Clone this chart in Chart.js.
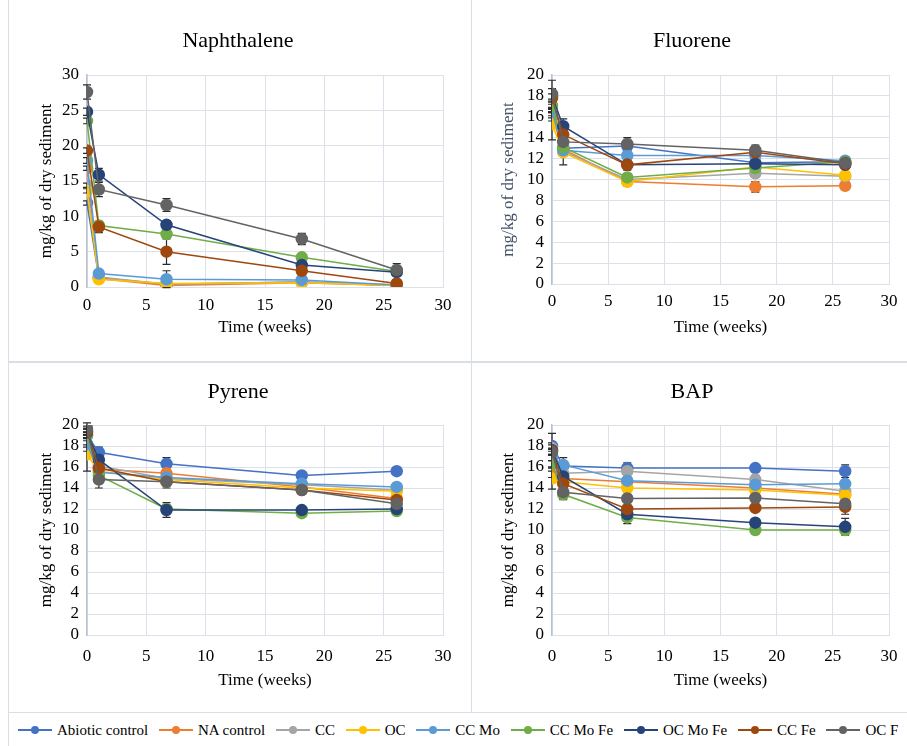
<!DOCTYPE html>
<html>
<head>
<meta charset="utf-8">
<script src="https://cdn.jsdelivr.net/npm/chart.js@4/dist/chart.umd.min.js"></script>
<style>
body{margin:0;width:907px;height:746px;overflow:hidden;background:#fff;position:relative;font-family:"Liberation Serif","Times New Roman",serif}
canvas{position:absolute}
.ln{position:absolute;background:#D9DDE5}
#legend{position:absolute;left:9px;top:714px;height:32px;display:flex;align-items:center;white-space:nowrap;font-size:15px;color:#000;padding-left:9px}
.item{display:flex;align-items:center;margin-right:10.8px}
.sym{position:relative;width:34px;height:10px;margin-right:5px}
.sym i{position:absolute;left:0;right:0;top:4px;height:2px}
.sym b{position:absolute;left:13px;top:1px;width:8px;height:8px;border-radius:50%}
</style>
</head>
<body>
<div class="ln" style="left:8px;top:0;width:1px;height:746px"></div>
<div class="ln" style="left:471px;top:0;width:1px;height:712px"></div>
<div class="ln" style="left:8px;top:361px;width:899px;height:2px"></div>
<div class="ln" style="left:8px;top:712px;width:899px;height:1px"></div>

<canvas id="naph" style="left:9px;top:0" width="462" height="361"></canvas>
<canvas id="fluo" style="left:472px;top:0" width="478" height="361"></canvas>
<canvas id="pyr" style="left:9px;top:363px" width="462" height="349"></canvas>
<canvas id="bap" style="left:472px;top:363px" width="478" height="349"></canvas>
<div id="legend"></div>

<script>
// sampling times in weeks
const times = [0, 1, 6.7, 18.1, 26.1];
const seriesNames = ['Abiotic control', 'NA control', 'CC', 'OC', 'CC Mo', 'CC Mo Fe', 'OC Mo Fe', 'CC Fe', 'OC F'];
const seriesColors = ['#4472C4', '#ED7D31', '#A5A5A5', '#FFC000', '#5B9BD5', '#70AD47', '#264478', '#9E480E', '#636363'];

// one row per series, same order as seriesNames
const naphthalene = [
  [11.9, 1.3, 0.4, 0.7, 0.2],
  [16.8, 1.2, 0.2, 0.6, 0.2],
  [14.4, 1.4, 0.4, 0.7, 0.3],
  [13.6, 1.1, 0.5, 0.6, 0.2],
  [17.9, 1.9, 1.1, 1.0, 0.3],
  [23.5, 8.7, 7.5, 4.2, 2.2],
  [24.8, 15.9, 8.8, 3.1, 2.1],
  [19.3, 8.5, 5.0, 2.3, 0.5],
  [27.6, 13.8, 11.6, 6.8, 2.4]
];
const naphthaleneErr = [
  [0.3, 0.6, 0.2, 0.2, 0.1],
  [0.3, 0.3, 0.2, 0.2, 0.1],
  [0.3, 0.3, 0.2, 0.2, 0.1],
  [0.3, 0.3, 0.2, 0.2, 0.1],
  [0.4, 0.4, 1.2, 0.3, 0.2],
  [0.4, 0.4, 0.5, 0.3, 0.3],
  [0.5, 0.9, 0.6, 0.4, 0.3],
  [0.4, 0.8, 1.8, 0.3, 0.3],
  [1.0, 1.0, 0.9, 0.8, 0.9]
];

const fluorene = [
  [16.3, 13.0, 13.2, 11.6, 11.7],
  [16.0, 12.9, 9.8, 9.3, 9.4],
  [16.8, 12.7, 10.0, 10.6, 10.3],
  [15.3, 12.6, 9.8, 11.2, 10.4],
  [16.5, 12.8, 12.3, 12.3, 11.8],
  [17.1, 13.1, 10.2, 11.1, 11.7],
  [18.0, 15.1, 11.4, 11.5, 11.4],
  [17.8, 14.3, 11.4, 12.6, 11.5],
  [18.2, 13.6, 13.4, 12.8, 11.6]
];
const fluoreneErr = [
  [0.4, 0.4, 0.4, 0.3, 0.2],
  [0.4, 0.4, 0.3, 0.5, 0.2],
  [0.4, 1.3, 0.3, 0.4, 0.2],
  [1.5, 0.4, 0.4, 0.3, 0.2],
  [0.4, 0.3, 0.3, 0.3, 0.2],
  [0.4, 0.3, 0.3, 0.3, 0.2],
  [1.5, 0.7, 0.5, 0.3, 0.2],
  [0.4, 0.4, 0.3, 0.3, 0.2],
  [0.5, 0.4, 0.6, 0.5, 0.3]
];

const pyrene = [
  [19.0, 17.4, 16.3, 15.2, 15.6],
  [17.8, 15.8, 15.4, 14.1, 13.0],
  [19.9, 16.1, 14.9, 14.3, 13.8],
  [17.2, 15.6, 14.8, 14.0, 13.7],
  [18.2, 15.5, 15.0, 14.4, 14.1],
  [19.05, 15.2, 12.0, 11.6, 11.8],
  [19.3, 16.7, 11.9, 11.9, 12.0],
  [19.4, 15.9, 14.6, 13.8, 12.85],
  [19.6, 14.8, 14.6, 13.8, 12.5]
];
const pyreneErr = [
  [0.3, 0.5, 0.6, 0.2, 0.2],
  [0.3, 0.3, 0.3, 0.2, 0.2],
  [0.3, 0.3, 0.3, 0.2, 0.2],
  [1.6, 0.3, 0.3, 0.2, 0.2],
  [0.3, 0.3, 0.3, 0.2, 0.2],
  [0.3, 0.3, 0.4, 0.2, 0.2],
  [0.3, 0.4, 0.7, 0.2, 0.2],
  [0.3, 0.3, 0.4, 0.2, 0.2],
  [0.3, 0.8, 0.6, 0.2, 0.2]
];

const bap = [
  [18.0, 16.1, 15.9, 15.9, 15.6],
  [15.3, 14.9, 14.6, 14.0, 13.4],
  [17.8, 15.4, 15.6, 14.8, 13.7],
  [14.9, 14.6, 14.0, 13.8, 13.3],
  [16.9, 16.2, 14.7, 14.3, 14.4],
  [16.3, 13.4, 11.2, 10.0, 10.0],
  [17.6, 15.1, 11.5, 10.7, 10.3],
  [17.5, 14.4, 12.0, 12.1, 12.2],
  [17.4, 13.6, 13.0, 13.05, 12.5]
];
const bapErr = [
  [0.3, 0.3, 0.5, 0.3, 0.6],
  [0.3, 0.3, 0.3, 0.3, 0.3],
  [0.3, 0.3, 0.3, 0.4, 0.3],
  [1.0, 0.3, 0.3, 0.3, 0.3],
  [0.3, 0.7, 0.3, 0.3, 0.3],
  [0.3, 0.3, 0.6, 0.3, 0.3],
  [1.6, 0.4, 0.4, 0.3, 0.8],
  [0.3, 0.3, 0.3, 0.3, 0.7],
  [0.3, 0.7, 0.4, 0.3, 0.3]
];

const serif = '"Liberation Serif", "Times New Roman", serif';

// vertical error bars with caps, drawn under the lines
const errorBars = {
  id: 'errorBars',
  beforeDatasetsDraw(chart) {
    const ctx = chart.ctx;
    const ys = chart.scales.y;
    ctx.save();
    ctx.strokeStyle = '#2b2b2b';
    ctx.lineWidth = 1.2;
    chart.data.datasets.forEach((ds, i) => {
      const meta = chart.getDatasetMeta(i);
      meta.data.forEach((pt, j) => {
        const v = ds.data[j].y, e = ds.err[j];
        const top = ys.getPixelForValue(v + e), bot = ys.getPixelForValue(v - e);
        ctx.beginPath();
        ctx.moveTo(pt.x, top); ctx.lineTo(pt.x, bot);
        ctx.moveTo(pt.x - 4, top); ctx.lineTo(pt.x + 4, top);
        ctx.moveTo(pt.x - 4, bot); ctx.lineTo(pt.x + 4, bot);
        ctx.stroke();
      });
    });
    ctx.restore();
  }
};

function makeChart(id, title, values, errs, yMax, yStep, opt)
{
  const datasets = values.map((row, i) => ({
    label: seriesNames[i],
    data: row.map((v, j) => ({x: times[j], y: v})),
    err: errs[i],
    borderColor: seriesColors[i],
    backgroundColor: seriesColors[i],
    pointBackgroundColor: seriesColors[i],
    pointBorderColor: seriesColors[i],
    pointRadius: 5.5,
    borderWidth: 1.5,
    order: seriesNames.length - i
  }));

  new Chart(document.getElementById(id), {
    type: 'line',
    data: {datasets: datasets},
    plugins: [errorBars],
    options: {
      responsive: false,
      animation: false,
      layout: {padding: {left: opt.padLeft, right: opt.padRight, top: 0, bottom: 0}},
      plugins: {
        legend: {display: false},
        tooltip: {enabled: false},
        title: {
          display: true,
          text: title,
          color: '#000',
          font: {family: serif, size: 22, weight: 'normal'},
          padding: {top: opt.titleTop, bottom: opt.titleBottom}
        }
      },
      scales: {
        x: {
          type: 'linear',
          min: 0, max: 30,
          ticks: {stepSize: 5, autoSkip: false, color: '#000', padding: opt.xTickPad, font: {family: serif, size: 17}},
          grid: {color: '#DCE0E8', drawTicks: false},
          border: {color: '#DCE0E8'},
          title: {display: true, text: 'Time (weeks)', color: '#000', font: {family: serif, size: 17}, padding: {top: 4, bottom: opt.xTitleBottom}},
          afterFit: s => { s.height = opt.xHeight; }
        },
        y: {
          min: 0, max: yMax,
          ticks: {stepSize: yStep, autoSkip: false, color: '#000', padding: 8, font: {family: serif, size: 17}},
          grid: {color: '#DCE0E8', drawTicks: false},
          border: {color: '#B8C2D3', width: 1.5},
          title: {display: true, text: 'mg/kg of dry sediment', color: opt.yTitleColor || '#000', font: {family: serif, size: 17}, padding: {top: 3, bottom: 4}},
          afterFit: s => { s.width = opt.yWidth; }
        }
      }
    }
  });
}

makeChart('naph', 'Naphthalene', naphthalene, naphthaleneErr, 30, 5,
  {padLeft: 24, padRight: 28, yWidth: 54, xHeight: 74, titleTop: 28, titleBottom: 20.6, xTickPad: 8, xTitleBottom: 23});
makeChart('fluo', 'Fluorene', fluorene, fluoreneErr, 20, 2,
  {padLeft: 23, padRight: 61, yWidth: 57, xHeight: 77, titleTop: 28, titleBottom: 20.6, xTickPad: 7, xTitleBottom: 23, yTitleColor: '#44546A'});
makeChart('pyr', 'Pyrene', pyrene, pyreneErr, 20, 2,
  {padLeft: 24, padRight: 28, yWidth: 54, xHeight: 77, titleTop: 16, titleBottom: 19.6, xTickPad: 11, xTitleBottom: 21});
makeChart('bap', 'BAP', bap, bapErr, 20, 2,
  {padLeft: 23, padRight: 61, yWidth: 57, xHeight: 77, titleTop: 16, titleBottom: 19.6, xTickPad: 11, xTitleBottom: 21});

// shared legend along the bottom
const legend = document.getElementById('legend');
seriesNames.forEach((name, i) => {
  const item = document.createElement('div');
  item.className = 'item';
  item.innerHTML = '<span class="sym"><i style="background:' + seriesColors[i] + '"></i><b style="background:' + seriesColors[i] + '"></b></span>' + name;
  legend.appendChild(item);
});
</script>
</body>
</html>
